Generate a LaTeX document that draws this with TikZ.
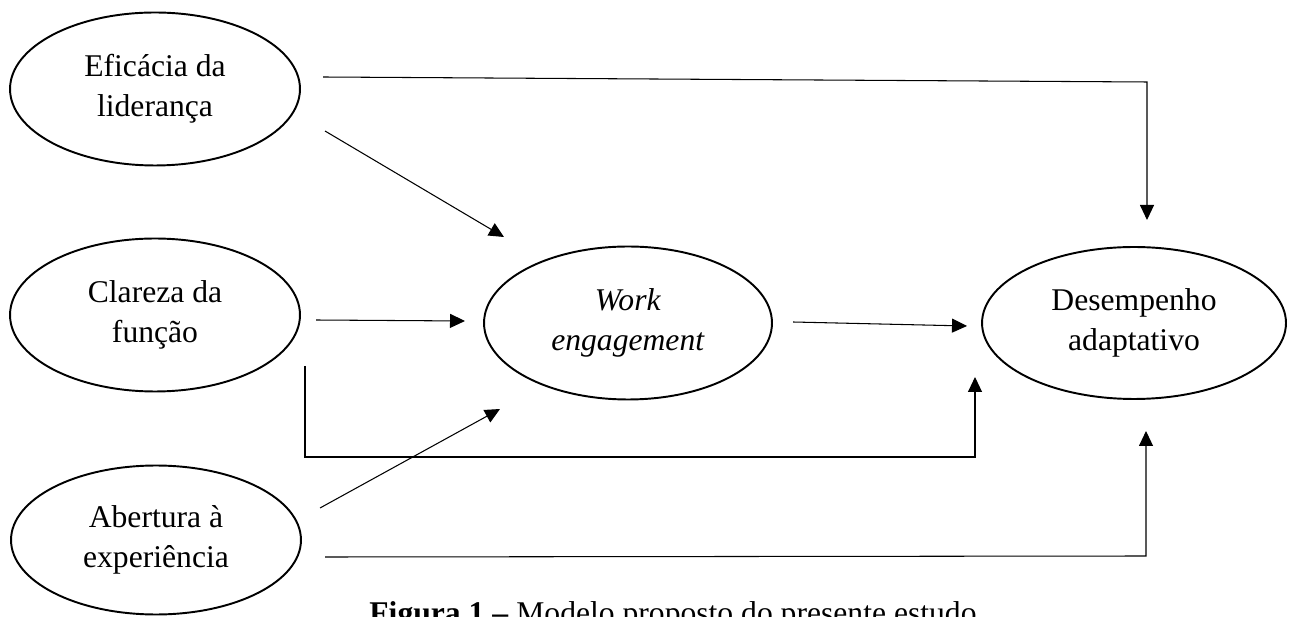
\documentclass[tikz,border=0pt]{standalone}
\usepackage{fontspec}
\setmainfont{Liberation Serif}
\usetikzlibrary{arrows.meta,shapes.geometric}
\tikzset{
  var/.style={draw, ellipse, line width=1.1pt, inner sep=0pt,
    minimum width=5.8cm, minimum height=3.06cm, align=center,
    font=\fontsize{18}{22.5}\selectfont},
  link/.style={-{Triangle[length=0.3cm,width=0.28cm]}, line width=0.6pt}
}
\begin{document}
\begin{tikzpicture}[x=0.02cm,y=-0.02cm]
            \useasboundingbox (0,0) rectangle (1290,617);
            \node[var] (eff) at (155,89) {Efic\'acia da\\lideran\c{c}a};
            \node[var] (clar) at (155,315) {Clareza da\\fun\c{c}\~ao};
            \node[var, minimum height=2.98cm] (abe) at (156,540) {Abertura \`a\\experi\^encia};
            \node[var, minimum width=5.76cm] (work) at (628,323) {\textit{Work}\\\textit{engagement}};
            \node[var, minimum width=6.08cm, minimum height=3.04cm] (des) at (1134,323) {Desempenho\\adaptativo};
            % free ends of the paths
            \coordinate (e1) at (323,77);
            \coordinate (e2) at (1147,82);
            \coordinate (e3) at (1147,220);
            \coordinate (e4) at (325,131);
            \coordinate (e5) at (504,237);
            \coordinate (c1) at (316,320);
            \coordinate (c2) at (465,321);
            \coordinate (c3) at (305,366);
            \coordinate (c4) at (305,457);
            \coordinate (c5) at (975,457);
            \coordinate (c6) at (975,377);
            \coordinate (a1) at (320,508);
            \coordinate (a2) at (500,409);
            \coordinate (a3) at (325,557);
            \coordinate (a4) at (1146,556);
            \coordinate (a5) at (1146,431);
            \coordinate (w1) at (793,322);
            \coordinate (w2) at (967,326);
            \draw[link] (e1) -- (e2) -- (e3);
            \draw[link] (e4) -- (e5);
            \draw[link] (c1) -- (c2);
            \draw[link] (c3) -- (c4) -- (c5) -- (c6);
            \draw[link] (a1) -- (a2);
            \draw[link] (a3) -- (a4) -- (a5);
            \draw[link] (w1) -- (w2);
            \begin{scope}
            \clip (0,0) rectangle (1290,617);
            \node[anchor=base, font=\fontsize{18}{22.5}\selectfont] (cap) at (673,623) {\textbf{Figura 1 –} Modelo proposto do presente estudo};
            \end{scope}
        \end{tikzpicture}
\end{document}
